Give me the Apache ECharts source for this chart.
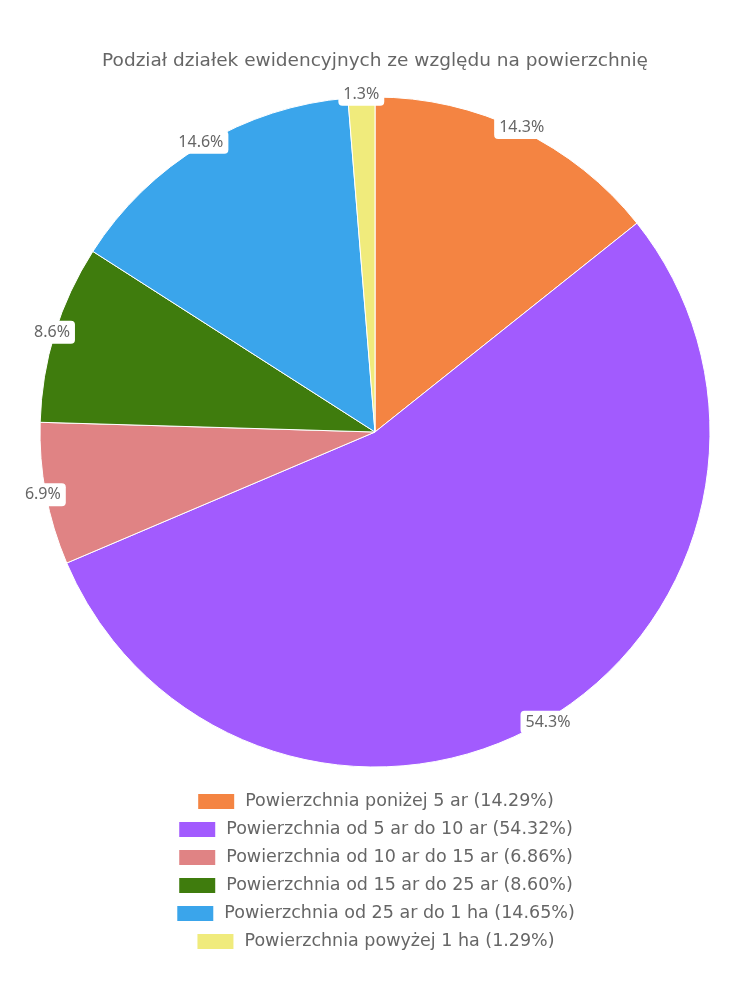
<!DOCTYPE html>
<html>
<head>
<meta charset="utf-8">
<script src="https://cdn.jsdelivr.net/npm/echarts@6/dist/echarts.min.js"></script>
<style>html,body{margin:0;padding:0;background:#fff}#c{width:750px;height:1000px}</style>
</head>
<body>
<div id="c"></div>
<script>
const titleText = 'Podział działek ewidencyjnych ze względu na powierzchnię';
const categories = [
  'Powierzchnia poniżej 5 ar',
  'Powierzchnia od 5 ar do 10 ar',
  'Powierzchnia od 10 ar do 15 ar',
  'Powierzchnia od 15 ar do 25 ar',
  'Powierzchnia od 25 ar do 1 ha',
  'Powierzchnia powyżej 1 ha'
];
const values = [14.29, 54.32, 6.86, 8.60, 14.65, 1.29];
const colors = ['#F48442', '#A25BFE', '#E08384', '#3F7C0D', '#3AA5EB', '#F0EB7C'];

const FONT = 'DejaVu Sans';
const LABEL_FONT = 'Noto Sans';
const data = categories.map((n, i) => ({ name: n, value: values[i] }));

const legends = categories.map((n, i) => ({
  show: true,
  orient: 'horizontal',
  left: 'center',
  top: 787 + i * 28,
  data: [n],
  itemWidth: 38,
  itemHeight: 17,
  icon: 'rect',
  selectedMode: false,
  formatter: name => name + ' (' + values[categories.indexOf(name)].toFixed(2) + '%)',
  textStyle: { fontFamily: FONT, fontSize: 17.5, color: '#666', padding: [0, 0, 0, 5] }
}));

const chart = echarts.init(document.getElementById('c'));
chart.setOption({
  animation: false,
  color: colors,
  title: {
    text: titleText,
    left: 'center',
    top: 47,
    textStyle: { fontFamily: FONT, fontSize: 18.5, fontWeight: 'normal', color: '#666' }
  },
  legend: legends,
  series: [
    {
      type: 'pie',
      center: [375, 432],
      radius: [0, 335],
      startAngle: 90,
      clockwise: true,
      percentPrecision: 1,
      data: data,
      itemStyle: { borderColor: '#fff', borderWidth: 1 },
      label: { show: false },
      labelLine: { show: false },
      emphasis: { disabled: true }
    },
    {
      type: 'pie',
      center: [375, 432],
      radius: [300, 370],
      startAngle: 90,
      clockwise: true,
      percentPrecision: 1,
      silent: true,
      z: 5,
      data: data,
      avoidLabelOverlap: false,
      itemStyle: { color: 'rgba(0,0,0,0)', borderWidth: 0 },
      labelLine: { show: false },
      label: {
        show: true,
        position: 'inside',
        formatter: '{d}%',
        fontFamily: LABEL_FONT,
        fontSize: 16,
        color: '#666',
        backgroundColor: '#fff',
        borderRadius: 4,
        padding: [4, 5, 3, 5]
      },
      emphasis: { disabled: true }
    }
  ]
});
</script>
</body>
</html>
